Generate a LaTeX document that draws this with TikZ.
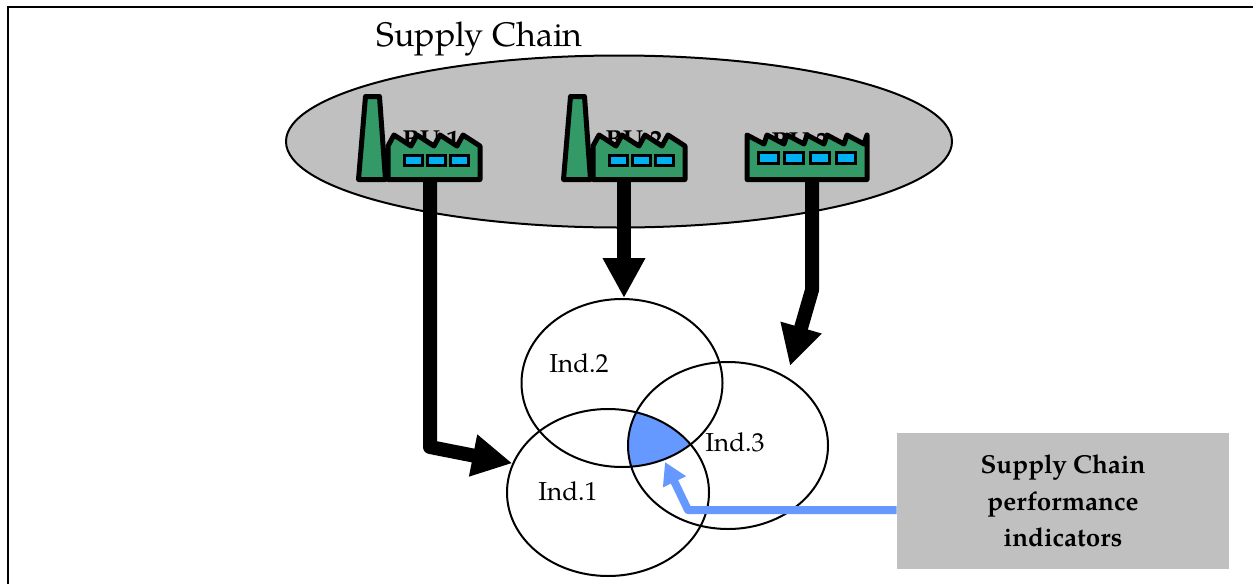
\documentclass[tikz,border=0pt]{standalone}
\usepackage{fontspec}
\setmainfont{TeX Gyre Pagella}
\usetikzlibrary{shapes.geometric,arrows.meta,backgrounds}

\definecolor{scgray}{HTML}{C0C0C0}
\definecolor{bugreen}{HTML}{339966}
\definecolor{bucyan}{HTML}{00B0F0}
\definecolor{indblue}{HTML}{6699FF}

\tikzset{
  plant/.style={draw=black, fill=bugreen, line width=2.5pt, line join=round},
  window/.style={draw=black, fill=bucyan, line width=1.5pt},
  factory/.pic={
    \draw[plant] (-28.5,-2.5) -- (-21.5,-85.5) -- (-7.5,-85.5) -- (-1.5,-2.5) -- cycle;
    \draw[plant] (1,-2.5) -- (1,-36)
      \foreach \t in {1,...,4} { -- ++(6,-11) -- ++(17,11) }
      -- (93,-2.5) -- cycle;
    \draw[window] (17,-27) rectangle (35,-17);
    \draw[window] (40,-27) rectangle (58,-17);
    \draw[window] (63,-27) rectangle (81,-17);
  },
  flatfactory/.pic={
    \draw[plant] (2,-2.5) -- (2,-47)
      \foreach \t in {1,...,6} { -- ++(17,9) -- ++(3,-9) }
      -- (122,-2.5) -- cycle;
    \draw[window] (13,-30) rectangle (33,-19);
    \draw[window] (39,-30) rectangle (58,-19);
    \draw[window] (65,-30) rectangle (84,-19);
    \draw[window] (91,-30) rectangle (110,-19);
  }
}

\begin{document}
\begin{tikzpicture}[x=0.5pt, y=-0.5pt,
  chain/.style={ellipse, draw, line width=1pt, fill=scgray, inner sep=0pt,
    minimum width=333pt, minimum height=86pt},
  ind/.style={ellipse, draw, line width=1pt, inner sep=0pt},
  indtext/.style={anchor=base, font=\fontsize{13}{15}\selectfont},
  bu/.style={anchor=base, font=\fontsize{13}{15}\selectfont\bfseries},
  flow/.style={line width=7pt, line join=round, -{Triangle[width=20pt,length=20pt]}},
  cue/.style={draw=indblue, line width=4pt, line join=round, -{Triangle[width=12pt,length=11pt]}},
  kpi/.style={fill=scgray, minimum width=166pt, minimum height=68pt, align=center,
    font=\fontsize{13}{18.25}\selectfont\bfseries}]
\useasboundingbox (0,0) rectangle (1253,584);

% frame
\draw[line width=1pt] (8,584) -- (8,7) -- (1253,7);

% supply chain
\node[chain] (sc) at (619,141.5) {};
\node[anchor=base, font=\fontsize{17}{20}\selectfont] (title) at (479.5,46) {Supply Chain};

% business units
\node[bu] (bu1) at (431,148) {BU 1};
\node[bu] (bu2) at (634,148) {BU 2};
\node[bu] (bu3) at (800,150) {BU 3};
\pic (f1) at (387,182) {factory};
\pic (f2) at (592,182) {factory};
\pic (f3) at (745,182) {flatfactory};

% indicators
\node[ind, minimum width=101pt, minimum height=83.5pt] (i1) at (608,492.5) {};
\node[ind, minimum width=100.5pt, minimum height=84pt] (i2) at (622,383) {};
\node[ind, minimum width=100pt, minimum height=83.5pt] (i3) at (728,445.5) {};
\begin{scope}[on background layer]
  \clip (i1.center) ellipse [x radius=50.5pt, y radius=41.75pt];
  \clip (i2.center) ellipse [x radius=50.25pt, y radius=42pt];
  \fill[indblue] (i3.center) ellipse [x radius=50pt, y radius=41.75pt];
\end{scope}
\node[indtext] (l1) at (568,500) {Ind.1};
\node[indtext] (l2) at (579,372) {Ind.2};
\node[indtext] (l3) at (735,451) {Ind.3};

% arrows
\coordinate (s1) at (430,182);
\coordinate (b1) at (430,447);
\coordinate (s2) at (624,182);
\coordinate (s3) at (812,182);
\coordinate (b3) at (812,290);
\coordinate (t3) at (790,366);
\draw[flow] (s1) -- (b1) -- (i1.163);
\draw[flow] (s2) -- (s2 |- i2.north);
\draw[flow] (s3) -- (b3) -- (t3);

% performance indicators
\node[kpi] (kpi) at (1063,501) {Supply Chain\\performance\\indicators};
\coordinate (b4) at (688,510);
\coordinate (t4) at (665,462);
\draw[cue] (kpi.west |- b4) -- (b4) -- (t4);
\end{tikzpicture}
\end{document}
